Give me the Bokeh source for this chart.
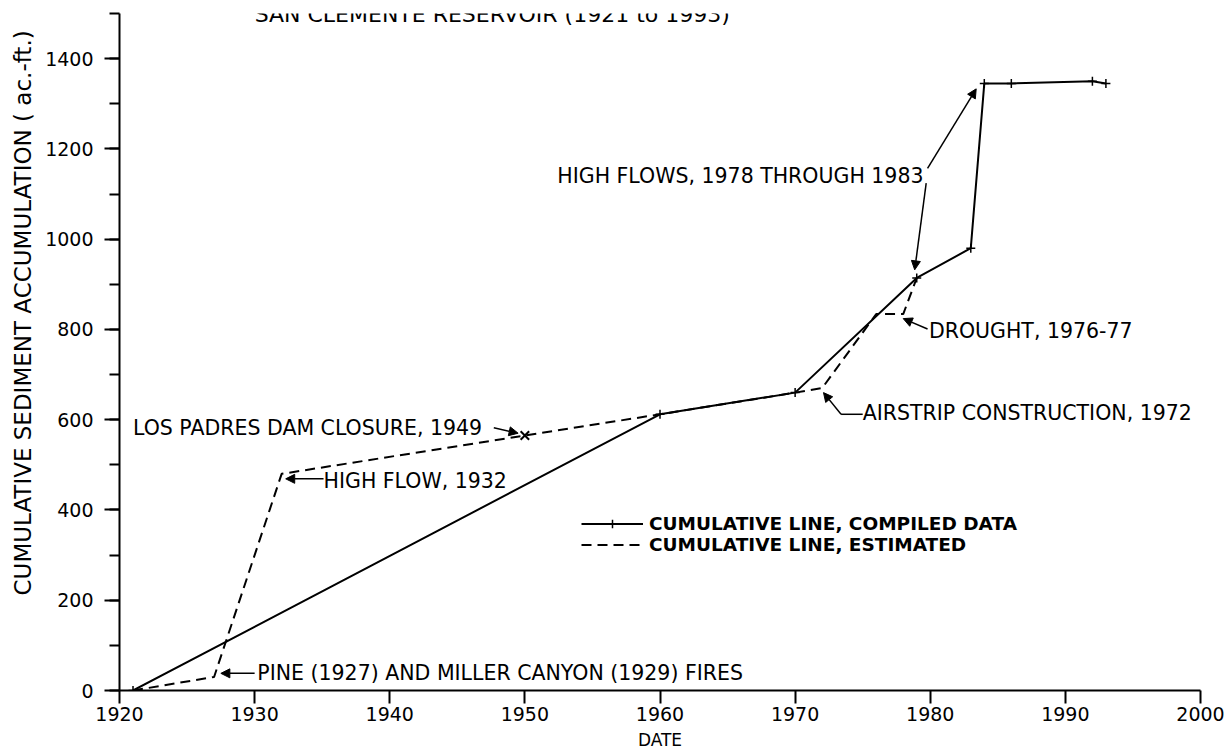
from bokeh.plotting import figure
from bokeh.models import (Range1d, SingleIntervalTicker, Label, Arrow, NormalHead,
                          Legend, LegendItem, Title)
from bokeh.embed import file_html
from bokeh.resources import INLINE

# ---- data ----
compiled_years = [1921, 1960, 1970, 1979, 1983, 1984, 1986, 1992, 1993]
compiled_values = [0, 612, 660, 914, 980, 1345, 1345, 1350, 1345]

estimated_years = [1921, 1927, 1932, 1950, 1960, 1970, 1972, 1976, 1978, 1979]
estimated_values = [0, 30, 480, 565, 612, 660, 670, 834, 834, 914]

closure_year = 1950  # Los Padres Dam closure mark on the estimated line

x_ticks_interval = 10
y_ticks_interval = 200

FONT = "DejaVu Sans"

p = figure(width=1225, height=754, x_range=Range1d(1920, 2000), y_range=Range1d(0, 1500),
           output_backend="svg", toolbar_location=None,
           min_border_left=118, min_border_right=25, min_border_top=13, min_border_bottom=64)
p.xgrid.visible = False
p.ygrid.visible = False
p.outline_line_color = None
p.background_fill_color = "white"

# axes
p.xaxis.ticker = SingleIntervalTicker(interval=x_ticks_interval, num_minor_ticks=0)
p.yaxis.ticker = SingleIntervalTicker(interval=y_ticks_interval, num_minor_ticks=2)
for ax in (p.xaxis[0], p.yaxis[0]):
    ax.axis_line_width = 2
    ax.axis_line_color = "black"
    ax.major_tick_line_width = 2
    ax.minor_tick_line_width = 2
    ax.major_tick_line_color = "black"
    ax.minor_tick_line_color = "black"
    ax.major_tick_in = 0
    ax.minor_tick_in = 0
    ax.major_label_text_font = FONT
    ax.major_label_text_font_size = "19px"
    ax.major_label_text_color = "black"

p.xaxis.major_tick_out = 13
p.xaxis.major_label_standoff = 3
p.xaxis.axis_label = "DATE"
p.xaxis.axis_label_text_font = FONT
p.xaxis.axis_label_text_font_size = "17px"
p.xaxis.axis_label_text_font_style = "normal"
p.xaxis.axis_label_text_color = "black"
p.xaxis.axis_label_standoff = 6

p.yaxis.major_tick_out = 15
p.yaxis.minor_tick_out = 10
p.yaxis.major_label_standoff = 11

# y axis title, placed like the source (starting low, reading upward)
ytitle = Title(text="CUMULATIVE SEDIMENT ACCUMULATION ( ac.-ft.)", align="left", offset=95,
               text_font=FONT, text_font_size="23px", text_font_style="normal",
               text_color="black", standoff=14)
p.add_layout(ytitle, "left")

# data lines
est_line = p.line(estimated_years, estimated_values, line_color="black", line_width=2,
                  line_dash="10 6")
cmp_line = p.line(compiled_years, compiled_values, line_color="black", line_width=2)
cmp_marks = p.scatter(compiled_years, compiled_values, marker="cross", size=9,
                      line_color="black", line_width=1.5)
ci = estimated_years.index(closure_year)
p.scatter([estimated_years[ci]], [estimated_values[ci]], marker="x", size=12,
          line_color="black", line_width=2)

# legend
legend = Legend(items=[
    LegendItem(label="CUMULATIVE LINE, COMPILED DATA", renderers=[cmp_line, cmp_marks]),
    LegendItem(label="CUMULATIVE LINE, ESTIMATED", renderers=[est_line]),
], location=(462, 135), orientation="vertical", glyph_width=62, glyph_height=21,
    label_height=21, spacing=0, padding=0, margin=0, label_standoff=6,
    background_fill_alpha=0, border_line_alpha=0,
    label_text_font=FONT, label_text_font_size="18.5px", label_text_font_style="bold",
    label_text_color="black")
p.add_layout(legend, "center")

# chart title (partly cut off at the top, as in the source)
p.add_layout(Label(x=1930, y=1498, text="SAN CLEMENTE RESERVOIR (1921 to 1993)",
                   text_font=FONT, text_font_size="22px", text_baseline="alphabetic",
                   text_color="black"))


def note(x, y, text, align="left"):
    p.add_layout(Label(x=x, y=y, text=text, text_font=FONT, text_font_size="20.5px",
                       text_align=align, text_baseline="middle", text_color="black"))


def arrow(x0, y0, x1, y1, head=True):
    end = NormalHead(size=9, fill_color="black", line_color="black", line_width=1) if head else None
    p.add_layout(Arrow(end=end, x_start=x0, y_start=y0, x_end=x1, y_end=y1,
                       line_color="black", line_width=1.5))


note(1930.2, 38, "PINE (1927) AND MILLER CANYON (1929) FIRES")
arrow(1930.0, 38, 1927.5, 38)

note(1935.1, 465, "HIGH FLOW, 1932")
arrow(1935.1, 469, 1932.3, 469)

note(1921.0, 582, "LOS PADRES DAM CLOSURE, 1949")
arrow(1947.7, 582, 1949.5, 570)

note(1975.0, 614, "AIRSTRIP CONSTRUCTION, 1972")
arrow(1975.0, 612, 1973.4, 612, head=False)
arrow(1973.4, 612, 1972.1, 660)

note(1979.9, 797, "DROUGHT, 1976-77")
arrow(1979.8, 801, 1978.0, 824)

note(1979.5, 1139, "HIGH FLOWS, 1978 THROUGH 1983", align="right")
arrow(1979.8, 1157, 1983.4, 1333)
arrow(1979.7, 1124, 1978.85, 932)

open("out.html", "w").write(file_html(p, INLINE))
